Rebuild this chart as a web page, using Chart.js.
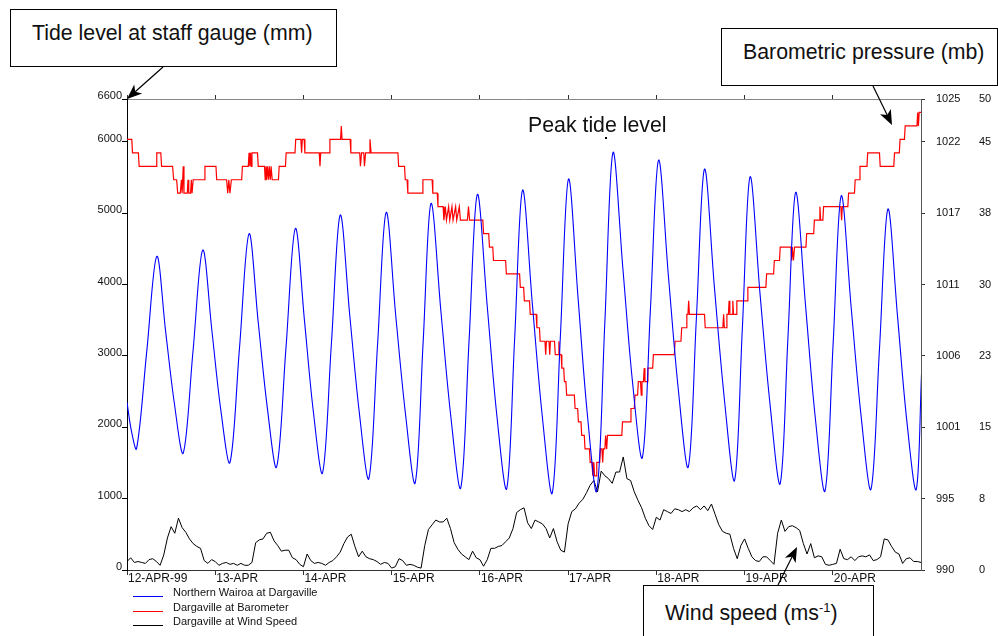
<!DOCTYPE html>
<html>
<head>
<meta charset="utf-8">
<title>Dargaville tide, pressure and wind</title>
<script src="https://cdn.jsdelivr.net/npm/chart.js@4.4.1/dist/chart.umd.min.js"></script>
<style>
  html, body { margin: 0; padding: 0; background: #fff; }
  #wrap { position: relative; width: 998px; height: 636px; overflow: hidden;
          font-family: "Liberation Sans", Arial, sans-serif; color: #111; }
  #wrap canvas { position: absolute; left: 0; top: 0; }
  .box { position: absolute; box-sizing: border-box; border: 1.5px solid #000; background: #fff;
         font-size: 21.3px; line-height: 24px; padding-top: 11px; padding-left: 21px; white-space: nowrap; }
  .note { position: absolute; font-size: 21.3px; line-height: 24px; white-space: nowrap; }
  .legend-row { position: absolute; left: 173px; font-size: 11px; line-height: 14px; white-space: nowrap; }
  .legend-line { position: absolute; left: 133px; width: 30px; height: 0; border-top: 1px solid; }
  svg { position: absolute; left: 0; top: 0; pointer-events: none; }
</style>
</head>
<body>
<div id="wrap">
  <canvas id="chart" width="998" height="636"></canvas>
  <div class="box" style="left:10px; top:9px; width:327px; height:58px;">Tide level at staff gauge (mm)</div>
  <div class="box" style="left:721px; top:28px; width:277px; height:58px;">Barometric pressure (mb)</div>
  <div class="box" style="left:643px; top:585px; width:231px; height:70px; padding-top:10px;">Wind speed (ms<sup style="font-size:13px; vertical-align:8px;">-1</sup>)</div>
  <div class="note" style="left:528px; top:113px;">Peak tide level</div>
  <div style="position:absolute; left:605px; top:137px; width:2px; height:2px; background:#000;"></div>
  <div id="legend"></div>
  <svg id="arrows" width="998" height="636"></svg>
</div>
<script>
// day tick labels (one per day from 12 April 1999)
const dayLabels = ['12-APR-99', '13-APR', '14-APR', '15-APR', '16-APR', '17-APR', '18-APR', '19-APR', '20-APR'];
const seriesNames = ['Northern Wairoa at Dargaville', 'Dargaville at Barometer', 'Dargaville at Wind Speed'];

// axis ticks
const tideTicks = [0, 1000, 2000, 3000, 4000, 5000, 6000, 6600];
const baroTickLabels = ['990', '995', '1001', '1006', '1011', '1017', '1022', '1025'];
const windTickLabels = ['0', '8', '15', '23', '30', '38', '45', '50'];
const tideMax = 6600, baroMin = 990, baroMax = 1025, windMax = 50;
const hoursShown = 216;

// tide level [hours from start, mm]
const tideLevel = [
  [0,2350],[1.2,1950],[2.6,1700],[5.35,3050],[8.1,4395],[10.5,3348],[12.9,2329],
  [15.3,1640],[17.95,3062],[20.6,4484],[23.1,3352],[25.5,2250],
  [28.0,1506],[30.6,3109],[33.2,4712],[35.7,3471],[38.2,2262],
  [40.7,1445],[43.25,3116],[45.8,4786],[48.3,3484],[50.7,2217],
  [53.2,1361],[55.6,3167],[58.0,4973],[60.6,3570],[63.2,2205],
  [65.8,1282],[68.15,3146],[70.5,5010],[73.1,3570],[75.8,2168],
  [78.4,1221],[80.55,3179],[82.7,5136],[85.4,3622],[88.1,2147],
  [90.8,1151],[93.05,3207],[95.3,5262],[98.0,3696],[100.6,2172],
  [103.3,1142],[105.45,3233],[107.6,5323],[110.3,3711],[113.0,2141],
  [115.7,1081],[117.9,3279],[120.1,5477],[122.7,3817],[125.2,2201],
  [127.8,1109],[130.0,3479],[132.2,5849],[134.9,4225],[137.5,2644],
  [140.2,1576],[142.4,3659],[144.6,5742],[147.3,4109],[150.0,2519],
  [152.7,1445],[154.9,3531],[157.1,5617],[159.8,3961],[162.6,2348],
  [165.3,1258],[167.4,3384],[169.5,5509],[172.2,3876],[175.0,2286],
  [177.7,1212],[179.8,3251],[181.9,5290],[184.6,3701],[187.2,2154],
  [189.9,1109],[192.1,3176],[194.3,5243],[197.0,3681],[199.7,2160],
  [202.4,1133],[204.7,3095],[207.0,5057],[209.6,3564],[212.1,2110],
  [214.7,1128],[216.2,2820]
];

// barometric pressure [hours from start, mb]
const pressure = [
  [0,1022],[1.3,1022],[1.5,1021],[3.1,1021],[3.3,1020],[7.9,1020],[8.1,1021],[9.2,1021],[9.4,1020],
  [12.4,1020],[12.7,1019],[13.5,1019],[13.8,1018],[14.5,1018],[14.8,1019],[15.0,1018],[15.3,1020],[15.5,1018],
  [16.4,1018],[16.6,1019],[16.8,1018],[17.3,1018],[17.5,1019],[17.7,1018],[18.0,1019],[21.0,1019],[21.2,1020],
  [24.2,1020],[24.4,1019],[27.1,1019],[27.4,1018],[27.7,1019],[28.0,1018],[28.4,1019],[31.2,1019],[31.4,1020],
  [33.0,1020],[33.2,1021],[33.4,1020],[33.6,1021],[33.8,1020],[34.0,1021],[35.5,1021],[35.7,1020],
  [37.4,1020],[37.6,1019],[37.8,1020],[38.0,1019],[38.2,1020],[38.5,1019],[38.7,1020],[39.0,1019],[39.2,1020],[39.5,1019],
  [41.2,1019],[41.4,1020],[43.1,1020],[43.3,1021],[45.7,1021],[45.9,1022],[47.3,1022],[47.5,1021],[47.7,1022],
  [48.2,1022],[48.4,1021],[52.3,1021],[52.5,1020],[52.7,1021],[55.0,1021],[55.2,1022],[58.1,1022],[58.3,1023],[58.5,1022],
  [60.7,1022],[60.9,1021],[63.3,1021],[63.5,1020],[63.8,1021],[64.4,1021],[64.6,1020],[64.9,1021],[65.9,1021],[66.1,1022],[66.4,1021],
  [73.7,1021],[73.9,1020],[75.5,1020],[75.7,1019],[76.2,1019],[76.4,1018],[80.3,1018],[80.5,1019],[83.0,1019],[83.2,1018],
  [84.4,1018],[84.6,1017],[86.0,1017],[86.2,1016],[86.6,1017],[86.9,1016],[87.5,1017],[87.8,1016],[88.4,1017],[88.7,1016],
  [89.4,1017],[89.7,1016],[90.4,1017],[90.7,1016],[92.6,1016],[92.9,1017],[93.2,1016],
  [96.8,1016],[97.0,1015],[98.4,1015],[98.6,1014],[99.5,1014],[99.7,1013],[103.0,1013],[103.2,1012],[106.8,1012],[107.0,1011],
  [107.9,1011],[108.1,1010],[109.5,1010],[109.7,1009],[111.3,1009],[111.5,1008],[112.2,1008],[112.4,1007],
  [113.7,1007],[113.9,1006],[114.1,1007],[114.8,1007],[115.0,1006],[115.2,1007],[116.3,1007],[116.5,1006],
  [117.3,1006],[117.5,1007],[117.7,1006],[118.1,1006],[118.3,1005],[118.8,1005],[119.0,1004],[119.4,1004],[119.6,1003],
  [121.7,1003],[121.9,1002],[122.6,1002],[122.8,1001],[123.5,1001],[123.7,1000],[124.4,1000],[124.6,999],[125.8,999],[126.0,998],
  [126.5,998],[126.7,997],[127.0,998],[127.2,997],[127.6,997],[127.8,998],[128.6,998],[128.8,999],[129.2,999],[129.4,998],[129.6,999],
  [130.0,999],[130.2,1000],[130.5,999],[130.7,1000],[134.6,1000],[134.8,1001],[136.9,1001],[137.1,1002],[138.0,1002],[138.2,1003],
  [138.9,1003],[139.1,1004],[139.7,1004],[139.9,1003],[140.1,1004],[140.5,1004],[140.7,1005],[140.9,1004],[141.5,1004],[141.7,1005],
  [143.0,1005],[143.2,1006],[148.9,1006],[149.1,1007],[150.7,1007],[150.9,1008],[152.1,1008],[152.3,1009],[152.6,1009],[152.8,1010],[153.0,1009],
  [157.1,1009],[157.3,1008],[162.1,1008],[162.3,1009],[162.5,1008],[163.0,1008],[163.2,1009],[163.6,1009],[163.8,1010],[164.0,1009],
  [164.6,1009],[164.8,1010],[165.0,1009],[165.7,1009],[165.9,1010],[168.7,1010],[168.9,1011],[173.8,1011],[174.0,1012],
  [175.9,1012],[176.1,1013],[177.5,1013],[177.7,1014],[180.6,1014],[180.8,1013],[181.0,1014],[181.3,1013],[181.6,1014],
  [184.7,1014],[184.9,1015],[186.8,1015],[187.0,1016],[188.3,1016],[188.5,1017],[188.7,1016],[189.3,1016],[189.5,1017],
  [194.2,1017],[194.4,1016],[194.6,1017],[196.1,1017],[196.3,1018],[197.9,1018],[198.1,1019],[199.2,1019],[199.4,1020],
  [201.3,1020],[201.5,1021],[204.7,1021],[204.9,1020],[208.6,1020],[208.8,1021],[210.1,1021],[210.3,1022],[211.5,1022],[211.7,1023],
  [214.9,1023],[215.1,1024],[215.3,1023],[215.5,1024],[216,1024]
];

// wind speed, one reading per hour from the start
const windStep = 1;
const windSpeed = [
  0.9,1.3,0.8,0.9,0.8,0.7,1.1,1.2,0.9,0.5, 1.6,3.4,4.6,3.9,5.5,4.5,4.0,3.3,2.8,2.5,
  2.3,1.0,0.7,1.1,0.9,0.5,0.7,0.8,0.6,0.7, 0.5,0.7,0.5,0.5,0.8,2.9,3.2,3.3,3.9,4.0,
  3.1,2.6,2.0,2.1,2.1,1.3,1.1,0.6,0.35,1.7, 1.0,0.7,0.8,0.7,
  0.5,0.8,1.0,1.4,1.9,2.8,3.5,3.8,2.5,1.4, 2.0,1.4,1.2,1.1,0.9,0.6,0.8,0.7,0.2,0.35,
  1.2,1.0,0.5,0.6,0.5,0.3,0.2,2.6,4.3,4.8, 5.3,5.1,5.1,5.5,4.4,2.9,2.2,1.7,1.4,1.1,
  2.0,1.3,1.1,0.4,1.1,2.3,2.3,2.5,2.6,3.0, 3.4,4.4,6.1,6.4,6.6,
  5.0,4.4,5.3,5.1,4.9,4.4,3.4,4.4,3.0,2.1, 1.9,4.9,6.2,6.5,7.1,7.5,8.2,9.0,9.5,8.3,
  10.5,10.0,9.7,9.2,10.4,10.4,12.0,9.7,9.5,8.3, 7.4,6.6,5.5,4.7,4.3,5.6,5.3,6.4,6.2,6.0,
  6.5,6.4,6.2,6.4,6.2,6.6,6.8,6.4,6.8,6.3, 7.0,5.9,4.8,4.1,
  3.9,3.8,2.3,1.2,2.6,3.3,2.3,1.4,1.0,0.9, 1.4,1.4,1.0,0.6,3.9,5.3,4.1,4.6,4.7,4.5,
  4.2,2.8,1.7,2.8,1.3,1.5,1.4,0.6,0.5,0.6, 0.7,2.2,1.2,1.1,1.4,1.0,1.4,1.5,1.4,1.6,
  1.0,1.1,1.4,3.3,3.2,2.5,1.9,1.7,0.7,1.2, 1.3,0.9,0.9,0.8
];

Chart.defaults.font.family = '"Liberation Sans", Arial, sans-serif';
Chart.defaults.color = '#111';

const dayTicks = s => { s.ticks = dayLabels.map((_, i) => ({ value: i * 24 })); };

const chart = new Chart(document.getElementById('chart'), {
  type: 'line',
  data: {
    datasets: [
      { label: seriesNames[0], data: tideLevel.map(p => ({ x: p[0], y: p[1] })), yAxisID: 'y',
        borderColor: '#0000ff', borderWidth: 1.1, pointRadius: 0, tension: 0.35 },
      { label: seriesNames[1], data: pressure.map(p => ({ x: p[0], y: p[1] })), yAxisID: 'y2',
        borderColor: '#ff0000', borderWidth: 1.2, pointRadius: 0, tension: 0 },
      { label: seriesNames[2], data: windSpeed.map((v, i) => ({ x: i * windStep, y: v })), yAxisID: 'y3',
        borderColor: '#000000', borderWidth: 1, pointRadius: 0, tension: 0 }
    ]
  },
  options: {
    responsive: false,
    animation: false,
    events: [],
    layout: { padding: 0 },
    plugins: { legend: { display: false }, tooltip: { enabled: false } },
    scales: {
      x: {
        type: 'linear', position: 'bottom', min: 0, max: hoursShown,
        afterBuildTicks: dayTicks,
        afterFit: s => { s.height = 66; },
        ticks: { autoSkip: false, maxRotation: 0, align: 'start', padding: -4, labelOffset: 1,
                 font: { size: 12 }, callback: (v, i) => dayLabels[i] },
        grid: { drawOnChartArea: false, tickLength: 5, color: '#333' },
        border: { color: '#333' }
      },
      xTop: {
        type: 'linear', position: 'top', min: 0, max: hoursShown,
        afterBuildTicks: dayTicks,
        afterFit: s => { s.height = 99; },
        ticks: { display: false },
        grid: { drawOnChartArea: false, tickLength: 4, color: '#333' },
        border: { color: '#888' }
      },
      y: {
        type: 'linear', position: 'left', min: 0, max: tideMax,
        afterBuildTicks: s => { s.ticks = tideTicks.map(v => ({ value: v })); },
        afterFit: s => { s.width = 127; },
        ticks: { autoSkip: false, padding: 0, labelOffset: -3, font: { size: 11 }, callback: v => String(v) },
        grid: { drawOnChartArea: false, tickLength: 5, color: '#000' },
        border: { color: '#000' }
      },
      y2: {
        type: 'linear', position: 'right', min: baroMin, max: baroMax,
        afterBuildTicks: s => { s.ticks = tideTicks.map(t => ({ value: baroMin + (baroMax - baroMin) * t / tideMax })); },
        afterFit: s => { s.width = 45; },
        ticks: { autoSkip: false, padding: 11, font: { size: 11 }, callback: (v, i) => baroTickLabels[i] },
        grid: { drawOnChartArea: false, tickLength: 4, color: '#333' },
        border: { color: '#555' }
      },
      y3: {
        type: 'linear', position: 'right', min: 0, max: windMax,
        afterBuildTicks: s => { s.ticks = tideTicks.map(t => ({ value: windMax * t / tideMax })); },
        afterFit: s => { s.width = 32; },
        ticks: { autoSkip: false, padding: 5, font: { size: 11 }, callback: (v, i) => windTickLabels[i] },
        grid: { display: false },
        border: { display: false }
      }
    }
  }
});

// legend built from the datasets
const legend = document.getElementById('legend');
chart.data.datasets.forEach((ds, i) => {
  const top = 585 + i * 14.5;
  const row = document.createElement('div');
  row.className = 'legend-row';
  row.style.top = top + 'px';
  row.textContent = ds.label;
  legend.appendChild(row);
  const line = document.createElement('div');
  line.className = 'legend-line';
  line.style.top = (top + 11) + 'px';
  line.style.borderTopColor = ds.borderColor;
  legend.appendChild(line);
});

// callout arrows
function arrow(svg, x1, y1, x2, y2) {
  const dx = x2 - x1, dy = y2 - y1, len = Math.hypot(dx, dy);
  const ux = dx / len, uy = dy / len, nx = -uy, ny = ux;
  const head = 15, half = 6, notch = 11;
  const bx = x2 - head * ux, by = y2 - head * uy;
  const mx = x2 - notch * ux, my = y2 - notch * uy;
  const ns = 'http://www.w3.org/2000/svg';
  const l = document.createElementNS(ns, 'line');
  l.setAttribute('x1', x1); l.setAttribute('y1', y1);
  l.setAttribute('x2', mx); l.setAttribute('y2', my);
  l.setAttribute('stroke', '#000'); l.setAttribute('stroke-width', '1.2');
  svg.appendChild(l);
  const p = document.createElementNS(ns, 'polygon');
  p.setAttribute('points', [[x2, y2], [bx + half * nx, by + half * ny], [mx, my], [bx - half * nx, by - half * ny]]
    .map(q => q.join(',')).join(' '));
  p.setAttribute('fill', '#000');
  svg.appendChild(p);
}
const svg = document.getElementById('arrows');
arrow(svg, 163, 67, 127, 99);
arrow(svg, 873, 86, 892, 125);
arrow(svg, 778, 585, 797, 547);
</script>
</body>
</html>
